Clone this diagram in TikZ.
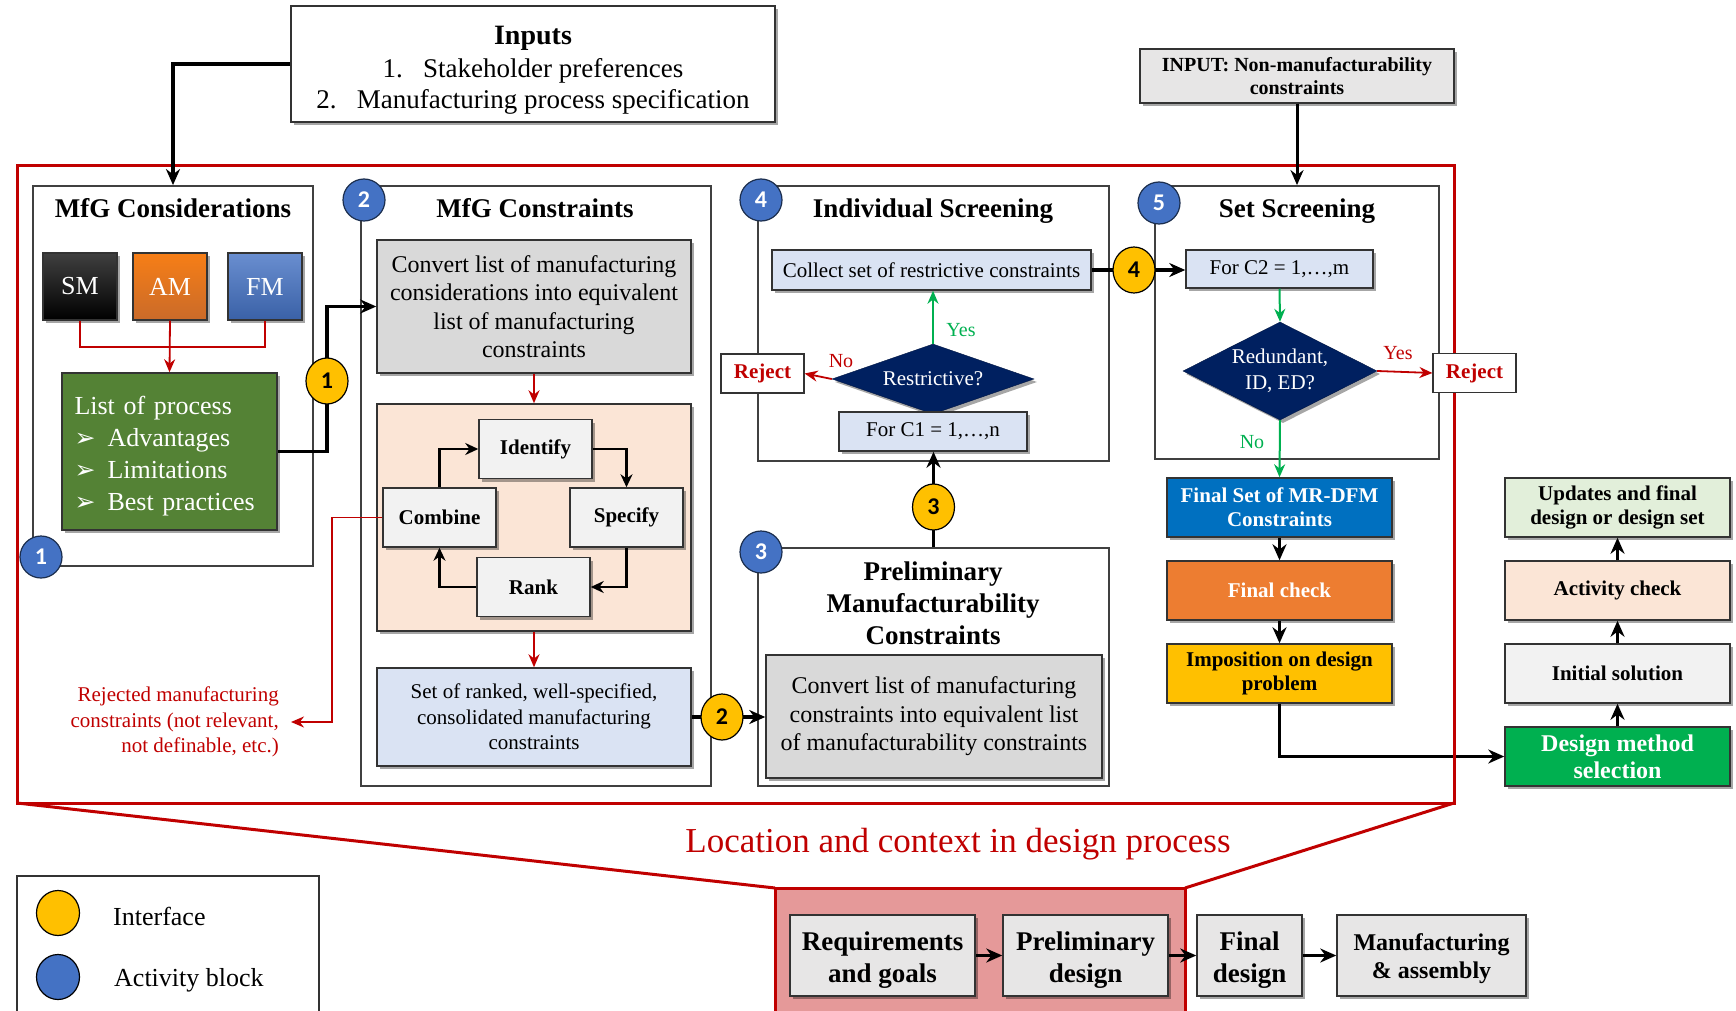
\documentclass[tikz,border=0pt]{standalone}
\usepackage{fontspec}
\setmainfont{Liberation Serif}
\newfontfamily\dejavu{DejaVu Sans}
\newfontfamily\numfont{Carlito}
\usetikzlibrary{shapes.geometric,arrows.meta,shadows,calc}
\definecolor{myred}{HTML}{C00000}
\definecolor{mygreen}{HTML}{00B050}
\definecolor{ablue}{HTML}{4472C4}
\definecolor{ayellow}{HTML}{FFC000}
\definecolor{gbox}{HTML}{D9D9D9}
\definecolor{lblue}{HTML}{DAE3F3}
\definecolor{peach}{HTML}{FBE5D6}
\definecolor{lgray}{HTML}{F2F2F2}
\definecolor{navy}{HTML}{002060}
\definecolor{dgreen}{HTML}{548235}
\definecolor{fblue}{HTML}{0070C0}
\definecolor{forange}{HTML}{ED7D31}
\definecolor{lgreen}{HTML}{E2EFDA}
\definecolor{pinkbg}{HTML}{E59999}
\definecolor{bgray}{HTML}{E7E6E6}
\newcommand\fA{\fontsize{21}{25.5}\selectfont}
\newcommand\fAb{\fontsize{21}{24}\selectfont\bfseries}
\newcommand\fB{\fontsize{24}{28.5}\selectfont}
\newcommand\bul{\makebox[33pt][l]{\dejavu\fontsize{25}{25}\selectfont ➢}}
\tikzset{
  panel/.style={draw=black!75, line width=1.8pt, inner sep=0pt},
  box/.style={draw=black!80, line width=1.5pt, align=center, inner sep=3pt,
    drop shadow={shadow xshift=3pt, shadow yshift=-3pt, opacity=0.35, fill=black}},
  titletxt/.style={font=\fontsize{27}{32}\selectfont\bfseries, align=center, inner sep=0pt},
  bnum/.style={circle, draw=black!60!ablue, line width=1.2pt, fill=ablue, minimum size=42pt,
    inner sep=0pt, font=\numfont\fontsize{24}{24}\selectfont\bfseries, text=white},
  ynum/.style={ellipse, draw=black, line width=1.2pt, fill=ayellow, minimum width=42pt,
    minimum height=46pt, inner sep=0pt, font=\numfont\fontsize{24}{24}\selectfont\bfseries},
  mbox/.style={draw=black!80, line width=1.2pt, text=white, font=\fontsize{26}{26}\selectfont,
    minimum width=74pt, minimum height=67pt,
    drop shadow={shadow xshift=3pt, shadow yshift=-3pt, opacity=0.35, fill=black}},
  sbox/.style={box, fill=lgray, minimum width=113pt, minimum height=59pt, font=\fAb},
  cbox/.style={box, minimum width=225pt, minimum height=59pt, font=\fAb},
  bbox/.style={box, fill=bgray, minimum height=81pt},
  bbtxt/.style={font=\fontsize{27}{32}\selectfont\bfseries, align=center, inner sep=0pt},
  rejbox/.style={draw=black!80, line width=1.2pt, fill=white, minimum width=83pt,
    minimum height=39pt, font=\fAb, text=myred},
  diam/.style={diamond, fill=navy, draw=navy!70!black, inner sep=0pt,
    drop shadow={shadow xshift=3pt, shadow yshift=-3pt, opacity=0.35, fill=black}},
  bconn/.style={line width=3.5pt, -{Stealth[length=16pt,width=14pt]}},
  cyc/.style={line width=2.5pt, -{Stealth[length=13pt,width=12pt]}},
  redline/.style={draw=myred, line width=1.5pt},
  redarr/.style={draw=myred, line width=1.8pt, -{Stealth[length=13pt,width=11pt]}},
  greenarr/.style={draw=mygreen, line width=2pt, -{Stealth[length=13pt,width=11pt]}},
  redframe/.style={draw=myred, line width=3pt},
  lbl/.style={font=\fontsize{20}{20}\selectfont, inner sep=0pt}
}
\begin{document}
\begin{tikzpicture}[x=1pt,y=-1pt]
\useasboundingbox (0,0) rectangle (1736,1011);

% ---------- red frame and bottom context area ----------
\draw[redframe] (17,166) rectangle (1454,803);
\filldraw[fill=pinkbg, draw=myred, line width=3pt] (775,1025) -- (775,888) -- (1185,888) -- (1185,1025);
\draw[redframe] (17,803) -- (775,888);
\draw[redframe] (1454,803) -- (1185,888);
\node[text=myred, font=\fontsize{35}{35}\selectfont] (loc) at (958,844) {Location and context in design process};

\node[bbox, minimum width=185pt] (req) at (882.5,955.5) {};
\node[bbtxt] (reqt) at (882.5,960) {Requirements\\and goals};
\node[bbox, minimum width=165pt] (pd) at (1085.5,955.5) {};
\node[bbtxt] (pdt) at (1085.5,960) {Preliminary\\design};
\node[bbox, minimum width=105pt] (fd) at (1249.5,955.5) {};
\node[bbtxt] (fdt) at (1249.5,960) {Final\\design};
\node[bbox, minimum width=189pt] (mfa) at (1431.5,955.5) {};
\node[bbtxt, font=\fontsize{24}{28}\selectfont\bfseries] (mfat) at (1431.5,959) {Manufacturing\\\& assembly};
\draw[bconn] (req.east) -- (pd.west);
\draw[bconn] (pd.east) -- (fd.west);
\draw[bconn] (fd.east) -- (mfa.west);

% legend
\node[draw=black!80, line width=1.5pt, minimum width=302pt, minimum height=150pt] (legend) at (168,951) {};
\node[ellipse, draw=black, line width=1.2pt, fill=ayellow, minimum width=43pt, minimum height=45pt] (ly) at (58,913) {};
\node[font=\fontsize{26}{26}\selectfont, anchor=west, inner sep=0pt] (lyt) at (113,916) {Interface};
\node[ellipse, draw=black, line width=1.2pt, fill=ablue, minimum width=43pt, minimum height=45pt] (lb) at (58,977) {};
\node[font=\fontsize{26}{26}\selectfont, anchor=west, inner sep=0pt] (lbt) at (114,980) {Activity block};

% ---------- top inputs ----------
\node[box, minimum width=484pt, minimum height=116pt, fill=white] (inputs) at (533,64) {};
\node[font=\fontsize{27}{31}\selectfont, align=center, inner sep=0pt] (inptxt) at (533,70)
  {{\fontsize{28}{31}\selectfont\bfseries Inputs}\\[2pt]1.\hspace{0.75em}Stakeholder preferences\\2.\hspace{0.75em}Manufacturing process specification};
\node[box, fill=bgray, minimum width=314pt, minimum height=54pt, font=\fontsize{20}{23}\selectfont\bfseries] (inp2) at (1297,76)
  {INPUT: Non-manufacturability\\constraints};

% ---------- panels ----------
\node[panel, minimum width=280pt, minimum height=380pt] (mfgc) at (173,376) {};
\node[titletxt, anchor=base] (tmfgc) at (173,217) {MfG Considerations};
\node[panel, minimum width=350pt, minimum height=600pt] (mfgk) at (536,486) {};
\node[titletxt, anchor=base] (tmfgk) at (535,217) {MfG Constraints};
\node[panel, minimum width=351pt, minimum height=275pt] (indiv) at (933.5,323.5) {};
\node[titletxt, anchor=base] (tindiv) at (933,217) {Individual Screening};
\node[panel, minimum width=351pt, minimum height=238pt] (prel) at (933.5,667) {};
\node[titletxt] (tprel) at (933,603) {Preliminary\\Manufacturability\\Constraints};
\node[panel, minimum width=284pt, minimum height=273pt] (setscr) at (1297,322.5) {};
\node[titletxt, anchor=base] (tset) at (1297,217) {Set Screening};

% ---------- MfG considerations ----------
\node[mbox, top color=black!75, bottom color=black] (sm) at (80,286.5) {SM};
\node[mbox, top color=orange!55!forange, bottom color=forange!85!black] (am) at (170,286.5) {AM};
\node[mbox, top color=ablue!80!white, bottom color=ablue!85!black] (fm) at (265,286.5) {FM};
\node[box, fill=dgreen, minimum width=215pt, minimum height=157pt] (list) at (169.5,451.5) {};
\node[text=white, align=left, text width=195pt, inner sep=0pt,
  font=\fontsize{26}{32}\selectfont] (listt) at (172,456) {List of process\\\bul Advantages\\\bul Limitations\\\bul Best practices};
\coordinate (rj) at (170,347);
\draw[redline] (sm.south) |- (rj) -| (fm.south);
\draw[redarr] (am.south) -- (list.north);

% ---------- MfG constraints ----------
\node[box, fill=gbox, minimum width=314pt, minimum height=133pt, font=\fB] (conv) at (534,306.5)
  {Convert list of manufacturing\\considerations into equivalent\\list of manufacturing\\constraints};
\node[box, fill=peach, minimum width=314pt, minimum height=227pt] (peachbox) at (534,517.5) {};
\node[sbox] (ident) at (535.5,449) {Identify};
\node[sbox] (comb) at (439.5,517.5) {Combine};
\node[sbox] (spec) at (626.5,517.5) {Specify};
\node[sbox] (rank) at (533.5,587) {Rank};
\node[box, fill=lblue, minimum width=314pt, minimum height=98pt, font=\fA] (setbox) at (534,717)
  {Set of ranked, well-specified,\\consolidated manufacturing\\constraints};
\node[font=\fA, text=myred, align=right, anchor=east, inner xsep=12pt, inner ysep=0pt] (rejtxt) at (291,722)
  {Rejected manufacturing\\constraints (not relevant,\\not definable, etc.)};
\draw[redarr] (conv.south) -- (peachbox.north);
\draw[redarr] (peachbox.south) -- (setbox.north);
\draw[cyc] (comb.north) |- (ident.west);
\draw[cyc] (ident.east) -| (spec.north);
\draw[cyc] (spec.south) |- (rank.east);
\draw[cyc] (rank.west) -| (comb.south);
\coordinate (rc) at (332,600);
\draw[redarr] (comb.west) -| (rc) |- (rejtxt.east);

% ---------- Individual screening ----------
\node[box, fill=lblue, minimum width=319pt, minimum height=40pt, font=\fA] (collect) at (931.5,270) {Collect set of restrictive constraints};
\node[diam, minimum width=202pt, minimum height=70pt] (d1) at (933,379) {};
\node[font=\fA, text=white] (d1t) at (d1.center) {Restrictive?};
\node[box, fill=lblue, minimum width=188pt, minimum height=39pt, font=\fA] (forc1) at (933,431.5) {For C1 = 1,…,n};
\node[rejbox] (rejL) at (762.5,373.5) {Reject};
\draw[greenarr] (d1.north) -- (d1.north |- collect.south);
\draw[redarr] (d1.west) -- (rejL.east);
\node[lbl, text=mygreen] (yes1) at (961,330) {Yes};
\node[lbl, text=myred] (no1) at (841,361) {No};

% ---------- Preliminary ----------
\node[box, fill=gbox, minimum width=336pt, minimum height=123pt, font=\fB] (pconv) at (934,716.5)
  {Convert list of manufacturing\\constraints into equivalent list\\of manufacturability constraints};

% ---------- Set screening ----------
\node[box, fill=lblue, minimum width=187pt, minimum height=38pt, font=\fA] (forc2) at (1279.5,269) {For C2 = 1,…,m};
\node[diam, minimum width=194pt, minimum height=98pt] (d2) at (1280,371) {};
\node[font=\fA, text=white, align=center] (d2t) at (d2.center) {Redundant,\\ID, ED?};
\node[rejbox] (rejR) at (1474.5,373) {Reject};
\draw[greenarr] (forc2.south) -- (d2.north);
\draw[redarr] (d2.east) -- (rejR.west);
\node[lbl, text=myred] (yes2) at (1398,353) {Yes};
\node[lbl, text=mygreen] (no2) at (1252,442) {No};

% ---------- final column ----------
\node[cbox, fill=fblue, text=white] (fset) at (1279.5,507.5) {Final Set of MR-DFM\\Constraints};
\node[cbox, fill=forange, text=white] (fcheck) at (1279.5,590.5) {Final check};
\node[cbox, fill=ayellow] (impo) at (1279.5,673.5) {Imposition on design\\problem};
\node[cbox, fill=lgreen] (upd) at (1617.5,507.5) {Updates and final\\design or design set};
\node[cbox, fill=peach] (act) at (1617.5,590.5) {Activity check};
\node[cbox, fill=lgray] (init) at (1617.5,673.5) {Initial solution};
\node[cbox, fill=mygreen, text=white, font=\fontsize{24}{27}\selectfont\bfseries] (dms) at (1617.5,756.5) {Design method\\selection};
\draw[greenarr] (d2.south) -- (fset.north);
\draw[bconn] (fset.south) -- (fcheck.north);
\draw[bconn] (fcheck.south) -- (impo.north);
\draw[bconn] (impo.south) |- (dms.west);
\draw[bconn] (dms.north) -- (init.south);
\draw[bconn] (init.north) -- (act.south);
\draw[bconn] (act.north) -- (upd.south);
\draw[redframe] (1454,735) -- (1454,780);

% ---------- main connectors through interfaces ----------
\coordinate (c1) at (327,381);
\coordinate (c2) at (722,717);
\coordinate (c3) at (933.5,507);
\coordinate (c4) at (1134,270);
\draw[bconn] (inputs.west) -| (mfgc.north);
\draw[bconn] (list.east) -| (c1) |- (conv.west);
\draw[bconn] (setbox.east) -- (setbox.east -| pconv.west);
\draw[bconn] (prel.north) -- (prel.north |- forc1.south);
\draw[bconn] (collect.east) -- (collect.east -| forc2.west);
\draw[line width=3pt, -{Stealth[length=15pt,width=13pt]}] (inp2.south) -- (setscr.north);

% ---------- numbered circles ----------
\node[ynum] (if1) at (c1) {1};
\node[ynum] (if2) at (c2) {2};
\node[ynum] (if3) at (c3) {3};
\node[ynum] (if4) at (c4) {4};
\node[bnum] (b1) at (41,557) {1};
\node[bnum] (b2) at (364,200) {2};
\node[bnum] (b4) at (761,200) {4};
\node[bnum] (b3) at (761,552) {3};
\node[bnum] (b5) at (1159,203) {5};
\end{tikzpicture}
\end{document}
